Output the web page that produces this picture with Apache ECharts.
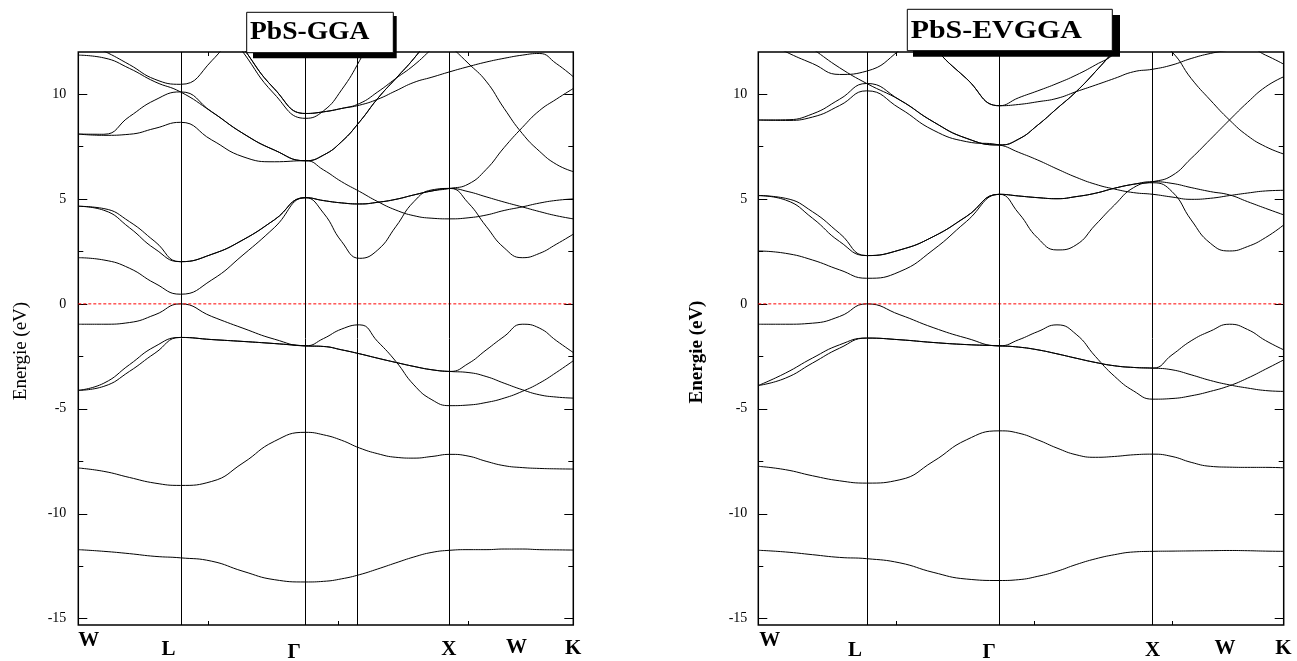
<!DOCTYPE html>
<html><head><meta charset="utf-8">
<script src="https://cdn.jsdelivr.net/npm/echarts@6/dist/echarts.min.js"></script>
<style>html,body{margin:0;padding:0;background:#fff}#c{width:1297px;height:661px}</style>
</head><body><div id="c"></div>
<script>
const _ = null;
// k-path positions (W, L, Gamma, X, W, K) in units of 2pi/a
const kPoints = [0, 0.1768, 0.3536, 0.5303, 0.7071, 0.9236, 1.1401, 1.3566, 1.5731,
  1.6981, 1.8231, 1.9481, 2.0731, 2.1981, 2.3231, 2.4481, 2.5731,
  2.6981, 2.8231, 2.9481, 3.0731, 3.1910, 3.3088, 3.4267];
const kMax = 3.4267;
const symLinesGGA = [0.7071, 1.5731, 1.9317, 2.5731];
const symLinesEV = [0.7071, 1.5731, 2.5731];
const kTickValues = [0.9, 1.8, 2.7];
const eMajorTicks = [-15, -10, -5, 0, 5, 10];
const eMinorTicks = [-12.5, -7.5, -2.5, 2.5, 7.5];
const eMin = -15.3, eMax = 12;
const kLabels = ['W', 'L', 'Γ', 'X', 'W', 'K'];
const titleGGA = 'PbS-GGA';
const titleEV = 'PbS-EVGGA';
const yName = 'Energie (eV)';

// ---- PbS-GGA bands (eV) ----
const gga_s1 = [-11.71,-11.79,-11.90,-12.03,-12.10, -12.26,-12.74,-13.14,-13.25, -13.22,-13.10,-12.90,-12.63,-12.34,-12.06,-11.84,-11.74, -11.71,-11.71,-11.68,-11.68, -11.71,-11.72,-11.73];
const gga_s2 = [-7.82,-7.98,-8.27,-8.54,-8.65, -8.46,-7.58,-6.55,-6.12, -6.24,-6.50,-6.87,-7.14,-7.31,-7.35,-7.27,-7.17, -7.25,-7.50,-7.71,-7.80, -7.84,-7.86,-7.87];
const gga_v1 = [-4.12,-3.78,-2.90,-2.03,-1.60, -1.70,-1.79,-1.89,-2.00, -2.03,-2.19,-2.38,-2.59,-2.79,-2.98,-3.14,-3.22, -2.85,-2.20,-1.55,-0.97, -1.15,-1.75,-2.32];
const gga_v2 = [-4.12,-3.93,-3.22,-2.35,-1.60, -1.70,-1.79,-1.89,-2.00, -2.03,-2.19,-2.38,-2.59,-2.79,-2.98,-3.14,-3.22, -3.27,-3.46,-3.78,-4.09, -4.33,-4.44,-4.49];
const gga_v3 = [-0.97,-0.97,-0.89,-0.52,0.00, -0.60,-1.16,-1.68,-2.00, -1.65,-1.20,-1.00,-1.80,-2.74,-3.86,-4.57,-4.85, -4.82,-4.70,-4.49,-4.17, -3.78,-3.27,-2.71];
const gga_c1 = [2.20,2.09,1.70,0.98,0.46, 1.14,2.33,3.63,5.06, 4.32,2.97,2.17,2.57,3.68,4.87,5.43,5.50, 4.82,3.70,2.67,2.20, 2.40,2.84,3.32];
const gga_c2 = [4.65,4.54,3.92,2.97,2.01, 2.36,3.05,4.00,5.06, 4.92,4.81,4.76,4.84,4.98,5.19,5.38,5.50, 5.70,6.40,7.45,8.40, 9.20,9.75,10.26];
const gga_c3 = [4.65,4.46,3.63,2.62,2.01, 2.36,3.05,4.00,5.06, 4.92,4.81,4.76,4.84,4.98,5.19,5.38,5.50, 5.35,5.10,4.85,4.62, 4.40,4.20,4.05];
const gga_c4 = [8.09,8.03,8.08,8.36,8.65, 7.81,7.01,6.77,6.82, 6.38,5.82,5.35,4.87,4.47,4.20,4.08,4.05, 4.10,4.23,4.45,4.62, 4.80,4.93,5.00];
const gga_c5 = [8.09,8.08,8.92,9.71,10.10, 9.15,8.12,7.33,6.82, 7.09,7.73,8.68,9.79,10.74,11.69,12.80,_, _,_,_,_, _,_,_];
const gga_c6 = [11.85,11.72,11.22,10.58,10.10, 9.15,8.12,7.33,6.82, 7.09,7.73,8.68,9.79,10.74,11.69,12.80,_, _,_,_,_, _,_,_];
const gga_c7 = [12.60,12.05,11.40,10.70,10.46, 11.58,13.50,_,_, _,_,_,_,_,_,_,_, _,_,_,_, _,_,_];
const gga_c8 = [_,_,_,_,_, 14.30,12.20,10.25,9.07, 9.15,9.31,9.47,9.75,10.15,10.55,10.80,11.06, 11.30,11.52,11.70,11.85, 11.93,11.45,10.82];
const gga_c9 = [_,_,_,_,_, 14.30,12.20,10.25,9.07, 9.15,9.31,9.55,10.10,10.74,11.37,12.15,12.90, _,_,_,_, _,_,_];
const gga_c10 = [_,_,_,_,_, 14.10,12.00,10.00,8.84, 9.20,10.20,11.60,13.30,_,_,_,_, _,_,_,_, _,_,_];
const gga_c11 = [_,_,_,_,_, _,_,_,_, _,_,_,_,_,_,_,12.30, 11.47,10.61,9.31,8.12, 7.28,6.65,6.30];

// ---- PbS-EVGGA bands (eV) ----
const ev_s1 = [-11.74,-11.82,-11.95,-12.08,-12.14, -12.34,-12.79,-13.11,-13.18, -13.14,-12.98,-12.74,-12.42,-12.15,-11.95,-11.82,-11.79, -11.78,-11.77,-11.76,-11.75, -11.76,-11.78,-11.79];
const ev_s2 = [-7.74,-7.90,-8.19,-8.43,-8.54, -8.38,-7.51,-6.48,-6.05, -6.16,-6.48,-6.87,-7.19,-7.31,-7.27,-7.19,-7.16, -7.27,-7.55,-7.74,-7.78, -7.79,-7.79,-7.81];
const ev_v1 = [-3.89,-3.30,-2.58,-1.95,-1.63, -1.71,-1.84,-1.94,-2.00, -2.06,-2.19,-2.38,-2.59,-2.79,-2.95,-3.03,-3.06, -2.43,-1.76,-1.30,-0.97, -1.22,-1.75,-2.19];
const ev_v2 = [-3.89,-3.54,-2.82,-2.11,-1.63, -1.71,-1.84,-1.94,-2.00, -2.06,-2.19,-2.38,-2.59,-2.79,-2.95,-3.03,-3.06, -3.14,-3.38,-3.65,-3.86, -4.01,-4.13,-4.17];
const ev_v3 = [-0.97,-0.97,-0.92,-0.60,0.00, -0.52,-1.13,-1.63,-2.00, -1.71,-1.32,-1.00,-1.45,-2.50,-3.45,-4.15,-4.54, -4.51,-4.38,-4.17,-3.90, -3.54,-3.11,-2.67];
const ev_c1 = [2.52,2.41,2.09,1.62,1.22, 1.54,2.57,3.92,5.22, 4.32,3.13,2.57,2.81,3.76,4.71,5.54,5.77, 5.35,4.00,2.89,2.52, 2.73,3.16,3.76];
const ev_c2 = [5.16,5.03,4.39,3.36,2.30, 2.57,3.20,4.16,5.22, 5.14,5.06,5.01,5.11,5.27,5.51,5.70,5.82, 6.11,6.93,7.84,8.76, 9.60,10.34,10.82];
const ev_c3 = [5.16,4.95,4.08,2.97,2.30, 2.57,3.20,4.16,5.22, 5.14,5.06,5.01,5.11,5.27,5.51,5.70,5.82, 5.74,5.54,5.35,5.19, 4.87,4.55,4.24];
const ev_c4 = [8.76,8.74,8.90,9.45,10.15, 9.31,8.28,7.73,7.57, 7.22,6.85,6.43,6.03,5.70,5.47,5.30,5.22, 5.09,4.98,5.03,5.16, 5.28,5.38,5.41];
const ev_c5 = [8.76,8.77,9.05,9.75,10.50, 9.71,8.68,7.89,7.57, 7.85,8.52,9.31,10.11,11.06,12.09,13.20,_, _,_,_,_, _,_,_];
const ev_c6 = [13.90,13.00,12.15,11.25,10.50, 9.71,8.68,7.89,7.57, 7.85,8.52,9.31,10.11,11.06,12.09,13.20,_, _,_,_,_, _,_,_];
const ev_c7 = [12.70,12.02,11.45,10.93,11.09, 12.10,13.50,_,_, _,_,_,_,_,_,_,_, _,_,_,_, _,_,_];
const ev_c8 = [_,_,_,_,_, 14.50,12.30,10.74,9.44, 9.50,9.63,9.79,10.11,10.42,10.74,11.06,11.18, 11.38,11.69,11.93,12.09, 12.20,11.85,11.42];
const ev_c9 = [_,_,_,_,_, 14.50,12.30,10.74,9.44, 9.82,10.15,10.50,10.90,11.38,11.93,13.00,_, _,_,_,_, _,_,_];
const ev_c10 = [_,_,_,_,_, _,_,_,_, _,_,_,_,_,_,_,12.60, 12.00,10.74,9.71,8.76, 8.01,7.49,7.14];

const bandsGGA = [gga_s1, gga_s2, gga_v1, gga_v2, gga_v3, gga_c1, gga_c2, gga_c3, gga_c4, gga_c5, gga_c6, gga_c7, gga_c8, gga_c9, gga_c10, gga_c11];
const bandsEV = [ev_s1, ev_s2, ev_v1, ev_v2, ev_v3, ev_c1, ev_c2, ev_c3, ev_c4, ev_c5, ev_c6, ev_c7, ev_c8, ev_c9, ev_c10];

const SERIF = '"Liberation Serif", "Times New Roman", serif';

function axesFor(g, labelMargin) {
  const xa = ['bottom', 'top'].map(pos => ({
    gridIndex: g, type: 'value', min: 0, max: kMax, position: pos,
    axisLine: {show: false, onZero: false},
    axisTick: {show: true, inside: true, length: 4, customValues: kTickValues, lineStyle: {color: '#000', width: 1}},
    axisLabel: {show: false}, splitLine: {show: false}
  }));
  const ya = [];
  ['left', 'right'].forEach(pos => {
    ya.push({
      gridIndex: g, type: 'value', min: eMin, max: eMax, position: pos,
      axisLine: {show: false, onZero: false},
      axisTick: {show: true, inside: true, length: 9, customValues: eMajorTicks, lineStyle: {color: '#000', width: 1}},
      axisLabel: {show: pos === 'left', customValues: eMajorTicks, margin: labelMargin,
        color: '#000', fontSize: 14, fontFamily: SERIF, formatter: v => String(v)},
      splitLine: {show: false}
    });
    ya.push({
      gridIndex: g, type: 'value', min: eMin, max: eMax, position: pos,
      axisLine: {show: false, onZero: false},
      axisTick: {show: true, inside: true, length: 5, customValues: eMinorTicks, lineStyle: {color: '#000', width: 1}},
      axisLabel: {show: false}, splitLine: {show: false}
    });
  });
  return {xa, ya};
}

function seriesFor(bands, symLines, xi, yi) {
  const out = bands.map(b => ({
    type: 'line', xAxisIndex: xi, yAxisIndex: yi,
    data: kPoints.map((k, i) => [k, b[i] === null ? '-' : b[i]]),
    symbol: 'none', showSymbol: false, smooth: 0.5,
    lineStyle: {color: '#000', width: 1}, silent: true, animation: false, z: 3
  }));
  out.push({
    type: 'line', xAxisIndex: xi, yAxisIndex: yi, data: [], silent: true, animation: false,
    markLine: {silent: true, symbol: ['none', 'none'], animation: false, label: {show: false},
      lineStyle: {color: '#000', width: 1, type: 'solid'},
      data: symLines.map(k => ({xAxis: k}))}
  });
  out.push({
    type: 'line', xAxisIndex: xi, yAxisIndex: yi, data: [[0, 0], [kMax, 0]],
    symbol: 'none', silent: true, animation: false, z: 4,
    lineStyle: {color: '#ff0000', width: 1, type: [3, 2]}
  });
  return out;
}

const A = axesFor(0, 12), B = axesFor(1, 11);

function titleBox(bx, by, bw, bh, sx, sy, sw, sh, tx, ty, text, scaleX) {
  return [
    {type: 'rect', z: 100, shape: {x: sx, y: sy, width: sw, height: sh}, style: {fill: '#000'}},
    {type: 'rect', z: 101, shape: {x: bx, y: by, width: bw, height: bh}, style: {fill: '#fff', stroke: '#000', lineWidth: 1}},
    {type: 'text', z: 102, x: tx, y: ty, scaleX: scaleX,
      style: {text: text, font: 'bold 26px ' + SERIF, fill: '#000', align: 'left', verticalAlign: 'middle'}}
  ];
}
function kLabel(x, y, t) {
  return {type: 'text', z: 100, x: x, y: y,
    style: {text: t, font: 'bold 21px ' + SERIF, fill: '#000', align: 'center', verticalAlign: 'middle'}};
}
const kLabelPosGGA = [[88.8, 641], [168.6, 650], [294.2, 653], [448.8, 650], [516.5, 648], [573.1, 649]];
const kLabelPosEV = [[769.7, 641], [855.1, 651], [989.2, 653], [1152.7, 651], [1224.9, 649], [1283.5, 649]];

const graphics = []
  .concat(titleBox(246.7, 12.3, 146.6, 40.4, 253, 16, 143.7, 42.3, 250, 32.5, titleGGA, 1.06))
  .concat(titleBox(907.3, 9.3, 205, 41.4, 913, 15, 207, 41.7, 910.7, 30.8, titleEV, 1.15))
  .concat(kLabels.map((t, i) => kLabel(kLabelPosGGA[i][0], kLabelPosGGA[i][1], t)))
  .concat(kLabels.map((t, i) => kLabel(kLabelPosEV[i][0], kLabelPosEV[i][1], t)))
  .concat([
    {type: 'text', z: 100, x: 21, y: 351, rotation: Math.PI / 2,
      style: {text: yName, font: '19px ' + SERIF, fill: '#000', align: 'center', verticalAlign: 'middle'}},
    {type: 'text', z: 100, x: 697, y: 352, rotation: Math.PI / 2,
      style: {text: yName, font: 'bold 19px ' + SERIF, fill: '#000', align: 'center', verticalAlign: 'middle'}}
  ]);

const chart = echarts.init(document.getElementById('c'), null, {renderer: 'canvas'});
chart.setOption({
  animation: false,
  backgroundColor: '#fff',
  grid: [
    {left: 78.3, top: 52, width: 495, height: 573, show: true, borderColor: '#000', borderWidth: 1.5, backgroundColor: 'transparent'},
    {left: 758.3, top: 52, width: 525.4, height: 573, show: true, borderColor: '#000', borderWidth: 1.5, backgroundColor: 'transparent'}
  ],
  xAxis: A.xa.concat(B.xa),
  yAxis: A.ya.concat(B.ya),
  series: seriesFor(bandsGGA, symLinesGGA, 0, 0).concat(seriesFor(bandsEV, symLinesEV, 2, 4)),
  graphic: {elements: graphics}
});
</script>
</body></html>
